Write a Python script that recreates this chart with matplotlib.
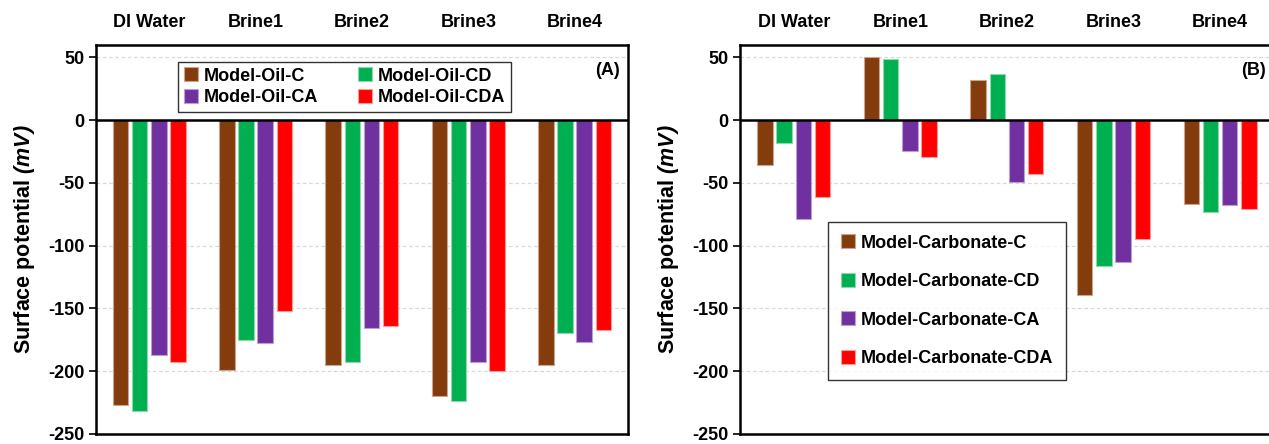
import numpy as np
from matplotlib import pyplot as plt
from matplotlib.font_manager import FontProperties

plt.rcParams['font.family'] = ['Liberation Sans', 'DejaVu Sans']
plt.rcParams['font.weight'] = 'bold'
plt.rcParams['axes.unicode_minus'] = False
plt.rcParams['mathtext.fontset'] = 'custom'
plt.rcParams['mathtext.it'] = 'Liberation Sans:bold:italic'
plt.rcParams['mathtext.rm'] = 'Liberation Sans:bold:italic'

categories = ['DI Water', 'Brine1', 'Brine2', 'Brine3', 'Brine4']

# panel A - model oil
oil_labels = ['Model-Oil-C', 'Model-Oil-CD', 'Model-Oil-CA', 'Model-Oil-CDA']
oil_c = [-227, -199, -195, -220, -195]
oil_cd = [-232, -175, -193, -224, -170]
oil_ca = [-187, -178, -166, -193, -177]
oil_cda = [-193, -152, -164, -200, -167]

# panel B - model carbonate
carb_labels = ['Model-Carbonate-C', 'Model-Carbonate-CD',
               'Model-Carbonate-CA', 'Model-Carbonate-CDA']
carb_c = [-36, 50, 32, -139, -67]
carb_cd = [-18, 49, 37, -116, -73]
carb_ca = [-79, -25, -49, -113, -68]
carb_cda = [-61, -29, -43, -95, -71]

colors = ['#843C0C', '#00B050', '#7030A0', '#FF0000']
edges = ['#C8A590', '#8ED8AE', '#B9A0CF', '#FF9A9A']


def draw_panel(ax, series, labels, tag):
    x = np.arange(len(categories))
    offsets = [-0.27, -0.09, 0.09, 0.27]
    for vals, lab, col, ec, off in zip(series, labels, colors, edges, offsets):
        ax.bar(x + off, vals, width=0.145, color=col, edgecolor=ec,
               linewidth=0.8, label=lab, zorder=3)
    ax.set_xlim(-0.5, len(categories) - 0.5)
    ax.set_ylim(-250, 60)
    ax.set_yticks([50, 0, -50, -100, -150, -200, -250])
    for yv in [50, -50, -100, -150, -200]:
        ax.axhline(yv, color='#D9D9D9', linestyle=(0, (3, 2)), linewidth=0.9, zorder=1)
    ax.axhline(0, color='black', linewidth=1.8, zorder=4)
    ax.xaxis.tick_top()
    ax.set_xticks(x)
    ax.set_xticklabels(categories, fontsize=13, fontweight='bold')
    ax.tick_params(axis='x', length=0, pad=10)
    ax.tick_params(axis='y', labelsize=13, length=5, width=1.2, direction='out')
    for t in ax.get_yticklabels():
        t.set_fontweight('bold')
    for s in ax.spines.values():
        s.set_linewidth(1.8)
    ax.set_ylabel('Surface potential $(mV)$', fontsize=15.5,
                  fontweight='bold', labelpad=8)
    ax.text(0.985, 0.955, tag, transform=ax.transAxes, ha='right', va='top',
            fontsize=13, fontweight='bold')


fig = plt.figure(figsize=(12.69, 4.44), dpi=100)
ax1 = fig.add_axes([0.0757, 0.023, 0.419, 0.876])
ax2 = fig.add_axes([0.5835, 0.023, 0.42, 0.876])

draw_panel(ax1, [oil_c, oil_cd, oil_ca, oil_cda], oil_labels, '(A)')
draw_panel(ax2, [carb_c, carb_cd, carb_ca, carb_cda], carb_labels, '(B)')

leg_prop = FontProperties(family='Liberation Sans', weight='bold', size=13)

# legend A filled row by row: C, CD / CA, CDA
h, l = ax1.get_legend_handles_labels()
order = [0, 2, 1, 3]
l1 = ax1.legend([h[i] for i in order], [l[i] for i in order], ncol=2,
                loc='upper left', bbox_to_anchor=(0.155, 0.956), borderaxespad=0,
                prop=leg_prop, frameon=True, fancybox=False, edgecolor='black',
                handlelength=0.8, handleheight=0.8, handletextpad=0.3,
                columnspacing=2.2, borderpad=0.3, labelspacing=0.25)
l1.get_frame().set_linewidth(1.0)
l2 = ax2.legend(ncol=1, loc='upper left', bbox_to_anchor=(0.165, 0.545),
                borderaxespad=0,
                prop=leg_prop, frameon=True, fancybox=False, edgecolor='black',
                handlelength=0.8, handleheight=0.8, handletextpad=0.3,
                borderpad=0.7, labelspacing=1.18)
l2.get_frame().set_linewidth(1.0)

fig.savefig('out.png', dpi=100)
